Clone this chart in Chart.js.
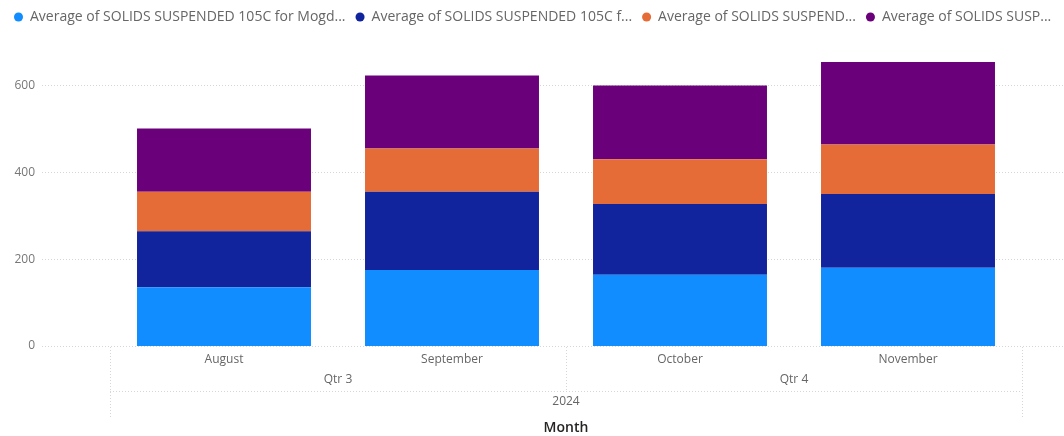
<!DOCTYPE html>
<html>
<head>
<meta charset="utf-8">
<script src="https://cdn.jsdelivr.net/npm/chart.js@4"></script>
<style>
  html, body { margin: 0; padding: 0; background: #fff; }
  #wrap { width: 1064px; height: 436px; }
</style>
</head>
<body>
<div id="wrap"><canvas id="chart" width="1064" height="436"></canvas></div>
<script>
// categories and hierarchy levels
const months = ['August', 'September', 'October', 'November'];
const quarters = ['Qtr 3', 'Qtr 3', 'Qtr 4', 'Qtr 4'];
const years = ['2024', '2024', '2024', '2024'];

// series
const seriesNames = [
    'Average of SOLIDS SUSPENDED 105C for Mogd...',
    'Average of SOLIDS SUSPENDED 105C f...',
    'Average of SOLIDS SUSPEND...',
    'Average of SOLIDS SUSP...'
];
const seriesA = [135, 175, 164, 180];
const seriesB = [129, 180, 163, 170];
const seriesC = [91, 100, 103, 114];
const seriesD = [146, 168, 170, 190];
const seriesColors = ['#118DFF', '#12239E', '#E66C37', '#6B007B'];

const yTicks = [0, 200, 400, 600];

Chart.defaults.font.family = "'Segoe UI', 'Open Sans', sans-serif";

const dotted = '#d6d6d6';

// a bit of room under the legend
const legendSpace = {
    id: 'legendSpace',
    beforeInit(chart) {
        const fit = chart.legend.fit;
        chart.legend.fit = function () {
            fit.bind(chart.legend)();
            this.height += 8;
        };
    }
};

// dotted value gridlines running the whole width
const valueGrid = {
    id: 'valueGrid',
    beforeDatasetsDraw(chart) {
        const ctx = chart.ctx;
        const y = chart.scales.y;
        ctx.save();
        ctx.strokeStyle = dotted;
        ctx.lineWidth = 1;
        ctx.setLineDash([1, 2]);
        y.ticks.forEach(t => {
            const py = Math.round(y.getPixelForValue(t.value)) + 0.5;
            ctx.beginPath();
            ctx.moveTo(42, py);
            ctx.lineTo(chart.width, py);
            ctx.stroke();
        });
        ctx.restore();
    }
};

// runs of equal labels -> groups
function groups(list) {
    const out = [];
    list.forEach((v, i) => {
        const last = out[out.length - 1];
        if (last && last.label === v) last.end = i;
        else out.push({ label: v, start: i, end: i });
    });
    return out;
}

// quarter / year / axis title rows under the months
const hierarchy = {
    id: 'hierarchy',
    afterDraw(chart) {
        const ctx = chart.ctx;
        const x = chart.scales.x;
        const area = chart.chartArea;
        const half = (x.getPixelForValue(1) - x.getPixelForValue(0)) / 2;
        const edge = i => x.getPixelForValue(i) - half;
        const top = area.bottom + 1;
        const qLine = 391.5;
        const yBottom = 418;

        ctx.save();
        ctx.strokeStyle = dotted;
        ctx.lineWidth = 1;
        ctx.setLineDash([1, 2]);
        const vline = (px, y1, y2) => {
            px = Math.round(px) + 0.5;
            ctx.beginPath();
            ctx.moveTo(px, y1);
            ctx.lineTo(px, y2);
            ctx.stroke();
        };
        const qs = groups(quarters);
        qs.forEach((g, k) => {
            if (k > 0) vline(edge(g.start), top, qLine);
        });
        vline(edge(0), top, yBottom);
        vline(edge(months.length), top, yBottom);
        ctx.beginPath();
        ctx.moveTo(edge(0), qLine);
        ctx.lineTo(edge(months.length), qLine);
        ctx.stroke();
        ctx.setLineDash([]);

        ctx.textAlign = 'center';
        ctx.textBaseline = 'middle';
        ctx.fillStyle = '#666666';
        ctx.font = "12px 'Segoe UI', 'Open Sans', sans-serif";
        qs.forEach(g => {
            const cx = (x.getPixelForValue(g.start) + x.getPixelForValue(g.end)) / 2;
            ctx.fillText(g.label, cx, 380);
        });
        groups(years).forEach(g => {
            const cx = (edge(g.start) + edge(g.end + 1)) / 2;
            ctx.fillText(g.label, cx, 402);
        });
        ctx.fillStyle = '#252423';
        ctx.font = "600 14px 'Segoe UI', 'Open Sans', sans-serif";
        ctx.fillText('Month', (edge(0) + edge(months.length)) / 2, 428);
        ctx.restore();
    }
};

const datasets = [seriesA, seriesB, seriesC, seriesD].map((values, i) => ({
    label: seriesNames[i],
    data: values,
    backgroundColor: seriesColors[i],
    borderWidth: 0,
    barPercentage: 1,
    categoryPercentage: 0.763
}));

// empty axes used only to hold space beside the plot
const spacer = (position, width) => ({
    type: 'linear',
    position: position,
    weight: 0,
    grid: { display: false, drawTicks: false },
    border: { display: false },
    ticks: { display: false },
    afterFit(scale) { scale.width = width; }
});

new Chart(document.getElementById('chart').getContext('2d'), {
    type: 'bar',
    data: { labels: months, datasets: datasets },
    options: {
        responsive: false,
        animation: false,
        layout: { padding: { left: 4, right: 0, top: 0, bottom: 0 } },
        plugins: {
            legend: {
                position: 'top',
                align: 'start',
                labels: {
                    usePointStyle: true,
                    pointStyle: 'circle',
                    boxWidth: 9,
                    boxHeight: 6.4,
                    padding: 10,
                    color: '#666666',
                    font: { size: 14 }
                }
            },
            tooltip: { enabled: false }
        },
        scales: {
            x: {
                stacked: true,
                grid: { display: false, drawTicks: false },
                border: { display: false },
                ticks: { color: '#666666', font: { size: 12 }, padding: 6, maxRotation: 0 },
                afterFit(scale) { scale.height = 90; }
            },
            y: {
                stacked: true,
                min: 0,
                max: 700,
                weight: 1,
                grid: { display: false, drawTicks: false },
                border: { display: false },
                afterBuildTicks(scale) { scale.ticks = yTicks.map(v => ({ value: v })); },
                ticks: { color: '#777777', font: { size: 12 }, padding: 4 },
                afterFit(scale) { scale.width = 35; }
            },
            gapLeft: spacer('left', 71),
            gapRight: spacer('right', 42)
        }
    },
    plugins: [legendSpace, valueGrid, hierarchy]
});
</script>
</body>
</html>
